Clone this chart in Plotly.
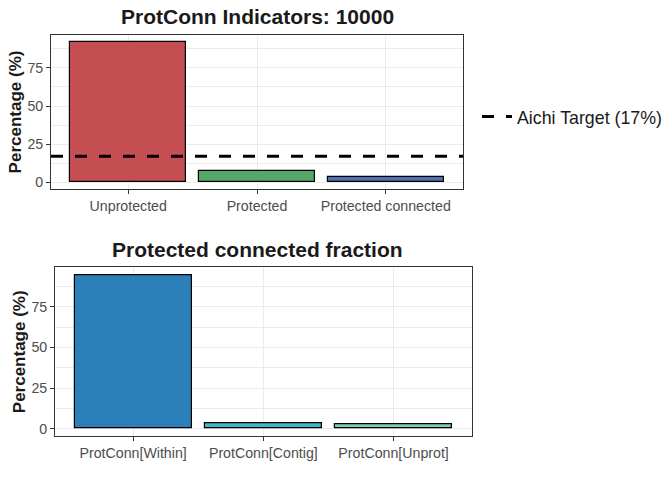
import plotly.graph_objects as go

# Data
top_categories = ["Unprotected", "Protected", "Protected connected"]
top_values = [92.1, 7.0, 3.3]
top_colors = ["#C44E52", "#55A868", "#4C72B0"]
aichi_target = 17

bottom_categories = ["ProtConn[Within]", "ProtConn[Contig]", "ProtConn[Unprot]"]
bottom_values = [94.6, 3.0, 2.4]
bottom_colors = ["#2C7FB8", "#41B6C4", "#7FCDBB"]

W, H = 672, 480
FONT = "Liberation Sans, Arial, sans-serif"

def px_x(p):
    return p / W

def px_y(p):
    return 1 - p / H

fig = go.Figure()

fig.add_trace(go.Bar(
    x=top_categories, y=top_values, width=0.9,
    marker=dict(color=top_colors, line=dict(color="black", width=1.2)),
    showlegend=False, xaxis="x", yaxis="y", hoverinfo="skip"))

fig.add_trace(go.Bar(
    x=bottom_categories, y=bottom_values, width=0.9,
    marker=dict(color=bottom_colors, line=dict(color="black", width=1.2)),
    showlegend=False, xaxis="x2", yaxis="y2", hoverinfo="skip"))

fig.add_shape(
    type="line", xref="x domain", yref="y", x0=0, x1=1,
    y0=aichi_target, y1=aichi_target,
    line=dict(color="black", width=3, dash="12px,12px"),
    showlegend=True, name="Aichi Target (17%)")

axis_common = dict(
    showline=True, mirror=True, linecolor="#333333", linewidth=1,
    ticks="outside", ticklen=4, tickcolor="#333333", tickwidth=1,
    tickfont=dict(family=FONT, size=14.2, color="#4D4D4D"),
    gridcolor="#EBEBEB", gridwidth=1, zeroline=False,
)

top_ymax = max(top_values)
bot_ymax = max(bottom_values)

fig.update_layout(
    width=W, height=H,
    margin=dict(l=0, r=0, t=0, b=0),
    paper_bgcolor="white", plot_bgcolor="white",
    bargap=0,
    xaxis=dict(domain=[px_x(51), px_x(463)], anchor="y",
               type="category", range=[-0.6, 2.6], **axis_common),
    yaxis=dict(domain=[px_y(189), px_y(35)], anchor="x",
               range=[-0.05 * top_ymax, 1.05 * top_ymax],
               tickmode="linear", tick0=0, dtick=25,
               minor=dict(showgrid=True, dtick=12.5, gridcolor="#EBEBEB", ticks=""),
               title=dict(text="<b>Percentage (%)</b>", font=dict(family=FONT, size=17, color="#1A1A1A"), standoff=1),
               **axis_common),
    xaxis2=dict(domain=[px_x(55), px_x(471.7)], anchor="y2",
                type="category", range=[-0.6, 2.6], **axis_common),
    yaxis2=dict(domain=[px_y(436.3), px_y(267.3)], anchor="x2",
                range=[-0.05 * bot_ymax, 1.05 * bot_ymax],
                tickmode="linear", tick0=0, dtick=25,
                minor=dict(showgrid=True, dtick=12.5, gridcolor="#EBEBEB", ticks=""),
                title=dict(text="<b>Percentage (%)</b>", font=dict(family=FONT, size=17, color="#1A1A1A"), standoff=1),
                **axis_common),
    legend=dict(x=px_x(477), y=px_y(117), xanchor="left", yanchor="middle",
                font=dict(family=FONT, size=17.8, color="#1A1A1A"),
                bgcolor="rgba(0,0,0,0)", itemwidth=30),
    annotations=[
        dict(text="<b>ProtConn Indicators: 10000</b>", x=px_x(257), y=px_y(16.5),
             xref="paper", yref="paper", showarrow=False, xanchor="center", yanchor="middle",
             font=dict(family=FONT, size=21, color="#1A1A1A")),
        dict(text="<b>Protected connected fraction</b>", x=px_x(257), y=px_y(249),
             xref="paper", yref="paper", showarrow=False, xanchor="center", yanchor="middle",
             font=dict(family=FONT, size=21, color="#1A1A1A")),
    ],
)

fig.write_html("out.html")
